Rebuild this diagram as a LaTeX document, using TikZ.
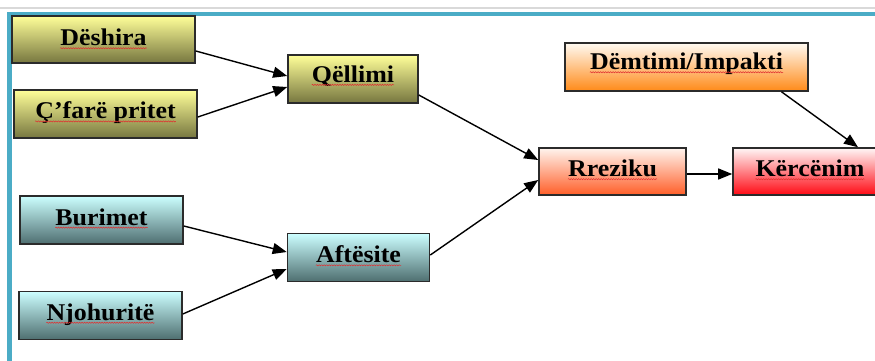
\documentclass[tikz,border=0pt]{standalone}
\usepackage{fontspec}
\setmainfont{Liberation Serif}[FakeStretch=1.08]
\usetikzlibrary{arrows.meta,decorations.pathmorphing,calc}
\definecolor{frameblue}{HTML}{4BACC6}
\definecolor{framegray}{HTML}{D9D9D9}
\definecolor{boxline}{HTML}{2B2B2B}
\definecolor{ytop}{HTML}{FFFF99}
\definecolor{ybot}{HTML}{76763F}
\definecolor{ctop}{HTML}{CCFFFF}
\definecolor{cbot}{HTML}{4E6E70}
\definecolor{rtop}{HTML}{FFF4EE}
\definecolor{rbot}{HTML}{FF5E28}
\definecolor{ktop}{HTML}{FFF6F6}
\definecolor{kbot}{HTML}{FF0A14}
\definecolor{mtop}{HTML}{FFFAF2}
\definecolor{mbot}{HTML}{FF8A18}
\definecolor{wavyred}{HTML}{E03030}
\begin{document}
\begin{tikzpicture}[x=1pt,y=-1pt,
  box/.style={draw=boxline, line width=1.6pt, minimum height=48pt, inner sep=0pt, shading angle=0},
  ybox/.style={box, top color=ytop, bottom color=ybot},
  cbox/.style={box, top color=ctop, bottom color=cbot},
  rbox/.style={box, top color=rtop, bottom color=rbot},
  kbox/.style={box, top color=ktop, bottom color=kbot},
  mbox/.style={box, top color=mtop, bottom color=mbot},
  txt/.style={inner sep=0pt, font=\fontsize{24}{26}\selectfont\bfseries},
  wavy/.style={draw=wavyred, line width=0.5pt, decorate, decoration={snake, amplitude=0.6pt, segment length=2.5pt}},
  conn/.style={draw=black, line width=1.4pt, -{Triangle[length=14pt,width=11pt]}}]
\clip (0,0) rectangle (875,361);
\fill[white] (0,0) rectangle (875,361);
% frame
\fill[framegray] (0,7.5) rectangle (875,9);
\fill[frameblue] (7,12) rectangle (875,16);
\fill[frameblue] (7,12) rectangle (12,361);
% boxes
\node[ybox, minimum width=183pt, minimum height=47pt] (d) at (103.5,39.5) {};
\node[ybox, minimum width=183pt] (c) at (105.5,114) {};
\node[ybox, minimum width=130pt] (q) at (353,79) {};
\node[cbox, minimum width=163pt] (b) at (101.5,220) {};
\node[cbox, minimum width=163pt] (n) at (100.5,315.5) {};
\node[cbox, minimum width=142pt] (a) at (358.5,257.5) {};
\node[rbox, minimum width=147pt, minimum height=47pt] (r) at (612.5,171.5) {};
\node[kbox, minimum width=154pt, minimum height=47pt] (k) at (810,171.5) {};
\node[mbox, minimum width=243pt] (m) at (686.5,67) {};
% texts
\node[txt] (dt) at ($(d.center)+(0,-2)$) {Dëshira};
\node[txt] (ct) at ($(c.center)+(0,-1)$) {Ç’farë pritet};
\node[txt] (qt) at ($(q.center)+(0,-3)$) {Qëllimi};
\node[txt] (bt) at ($(b.center)+(0,-3)$) {Burimet};
\node[txt] (nt) at ($(n.center)+(0,-1)$) {Njohuritë};
\node[txt] (at) at ($(a.center)+(0,-3)$) {Aftësite};
\node[txt] (rt) at ($(r.center)+(0,-3)$) {Rreziku};
\node[txt] (kt) at ($(k.center)+(0,-3)$) {Kërcënim};
\node[txt] (mt) at ($(m.center)+(0,-3)$) {Dëmtimi/Impakti};
% spelling underlines
\foreach \t in {dt,ct,qt,bt,nt,at,rt,kt,mt}{
  \draw[wavy] ($(\t.base west)+(0,2.5)$) -- ($(\t.base east)+(0,2.5)$);
}
% connectors
\draw[conn] ($(d.east)+(0,11.5)$) -- ($(q.west)+(0,-3)$);
\draw[conn] ($(c.east)+(0,3)$) -- ($(q.west)+(0,8)$);
\draw[conn] ($(q.east)+(0,16)$) -- ($(r.west)+(0,-11.5)$);
\draw[conn] ($(b.east)+(0,6)$) -- ($(a.west)+(0,-5.5)$);
\draw[conn] ($(n.east)+(0,-1.5)$) -- ($(a.west)+(0,11.5)$);
\draw[conn] ($(a.east)+(0,-2.5)$) -- ($(r.west)+(0,8.5)$);
\draw[conn] ($(r.east)+(0,2.5)$) -- ($(k.west)+(0,2.5)$);
\draw[conn] ($(m.south)+(95,0)$) -- ($(k.north)+(48,0)$);
\end{tikzpicture}
\end{document}
